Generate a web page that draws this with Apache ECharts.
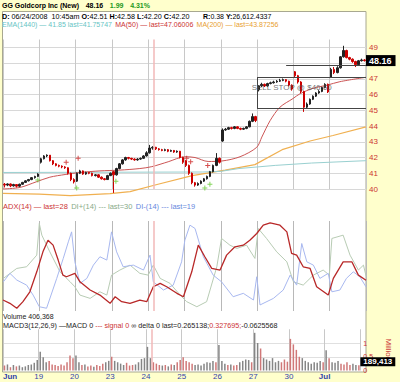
<!DOCTYPE html>
<html><head><meta charset="utf-8">
<script src="https://cdn.jsdelivr.net/npm/echarts@6/dist/echarts.min.js"></script>
<style>html,body{margin:0;padding:0;background:#ffffcc}#c{width:400px;height:382px}</style>
</head><body><div id="c"></div>
<script>
// ---------- data ----------
const dayLabels = ['Jun','19','20','23','24','25','26','27','30','Jul'];
const barsPerDay = 12;
// [open, close, low, high]
const priceBars = [
 [40.30,40.25,40.10,40.38],[40.25,40.32,40.18,40.36],[40.32,40.20,40.12,40.35],[40.20,40.28,40.15,40.33],
 [40.28,40.18,40.10,40.30],[40.18,40.30,40.14,40.34],[40.30,40.42,40.26,40.45],[40.42,40.52,40.38,40.56],
 [40.52,40.60,40.48,40.64],[40.60,40.72,40.56,40.76],[40.72,40.80,40.66,40.84],[40.80,40.95,40.76,41.00],
 [41.70,41.92,41.62,41.98],[41.92,42.10,41.88,42.15],[42.10,42.15,42.02,42.20],[42.15,41.80,41.75,42.16],
 [41.80,41.60,41.52,41.84],[41.60,41.50,41.44,41.64],[41.50,41.45,41.38,41.55],[41.45,41.40,41.32,41.50],
 [41.40,41.35,41.28,41.45],[41.35,41.00,40.92,41.38],[41.00,40.60,40.50,41.04],[40.60,40.45,40.35,40.68],
 [40.50,41.00,40.45,41.05],[41.00,41.15,40.95,41.22],[41.15,40.95,40.90,41.18],[40.95,41.05,40.90,41.10],
 [41.05,41.00,40.94,41.08],[41.00,40.85,40.80,41.04],[40.85,40.90,40.80,40.95],[40.90,40.75,40.70,40.94],
 [40.75,40.65,40.60,40.80],[40.65,40.60,40.55,40.70],[40.60,40.85,40.58,40.90],[40.85,41.00,40.82,41.05],
 [41.10,40.90,39.75,41.15],[40.90,41.30,40.85,41.35],[41.30,41.60,41.25,41.65],[41.60,41.85,41.55,41.90],
 [41.85,42.00,41.80,42.05],[42.00,41.95,41.88,42.04],[41.95,41.90,41.84,41.98],[41.90,41.85,41.80,41.95],
 [41.85,41.90,41.80,41.96],[41.90,41.95,41.85,42.00],[41.95,42.10,41.92,42.15],[42.10,42.30,42.06,42.40],
 [42.30,42.60,42.25,42.80],[42.60,42.65,42.50,42.72],[42.65,42.55,42.48,42.68],[42.55,42.50,42.44,42.60],
 [42.50,42.45,42.40,42.55],[42.45,42.50,42.40,42.56],[42.50,42.40,42.34,42.54],[42.40,42.45,42.36,42.50],
 [42.45,42.35,42.30,42.48],[42.35,42.40,42.30,42.45],[42.40,42.00,41.95,42.42],[42.00,41.70,41.60,42.05],
 [41.80,41.50,41.40,41.85],[41.50,41.00,40.90,41.55],[41.00,40.40,40.30,41.05],[40.40,40.25,40.15,40.45],
 [40.25,40.35,40.20,40.42],[40.35,40.50,40.30,40.55],[40.50,40.65,40.45,40.70],[40.65,40.80,40.60,40.85],
 [40.80,41.10,40.75,41.15],[41.10,41.50,41.05,41.55],[41.50,41.95,41.45,42.28],[41.95,41.70,41.62,42.00],
 [43.05,43.75,43.00,43.85],[43.75,43.80,43.70,43.88],[43.80,43.90,43.75,43.95],[43.90,43.85,43.78,43.95],
 [43.85,43.95,43.80,44.00],[43.95,43.85,43.80,43.98],[43.85,43.80,43.74,43.90],[43.80,43.85,43.76,43.90],
 [43.85,43.95,43.80,44.00],[43.95,44.30,43.92,44.35],[44.30,44.60,44.25,44.80],[44.60,44.35,44.25,44.65],
 [46.30,46.55,46.20,46.60],[46.55,46.65,46.48,46.75],[46.65,46.55,46.48,46.70],[46.55,46.70,46.50,46.75],
 [46.70,46.75,46.65,46.82],[46.75,46.80,46.70,46.88],[46.80,46.85,46.75,46.92],[46.85,46.90,46.80,47.00],
 [46.90,46.95,46.85,47.02],[46.95,46.85,46.78,46.98],[46.85,46.60,46.52,46.88],[46.60,46.35,46.25,46.65],
 [47.45,47.20,47.10,47.50],[47.20,46.80,46.70,47.25],[46.80,46.20,46.10,46.85],[46.20,45.20,44.90,46.25],
 [45.20,45.40,45.10,45.50],[45.40,45.70,45.35,45.75],[45.70,45.90,45.65,45.95],[45.90,46.10,45.85,46.15],
 [46.10,46.20,46.05,46.28],[46.20,46.45,46.15,46.50],[46.45,46.65,46.40,46.72],[46.65,46.17,46.10,46.70],
 [47.10,47.60,47.05,47.70],[47.60,47.40,47.30,47.75],[47.40,47.70,47.35,47.80],[47.70,48.40,47.65,48.45],
 [48.40,48.80,48.35,49.10],[48.80,48.35,48.30,48.85],[48.35,48.25,48.18,48.40],[48.25,48.10,48.02,48.30],
 [48.10,47.90,47.75,48.15],[47.90,48.15,47.85,48.20],[48.15,48.20,48.10,48.28],[48.20,48.16,48.10,48.25]
];
// volume, millions
const volumes = [
 0.18,0.22,0.12,0.20,0.15,0.18,0.12,0.15,0.20,0.22,0.28,0.38,
 0.68,0.48,0.30,0.35,0.22,0.20,0.16,0.22,0.18,0.30,0.55,0.45,
 0.55,0.30,0.20,0.22,0.15,0.18,0.14,0.20,0.16,0.25,0.30,0.35,
 0.50,0.35,0.30,0.25,0.20,0.28,0.18,0.20,0.22,0.30,0.42,0.45,
 0.86,0.45,0.30,0.25,0.20,0.18,0.20,0.15,0.22,0.20,0.30,0.38,
 0.48,0.35,0.30,0.25,0.20,0.22,0.18,0.25,0.30,0.28,0.35,0.30,
 0.93,0.35,0.25,0.20,0.22,0.18,0.20,0.30,0.35,0.40,0.38,0.30,
 1.37,1.00,0.80,0.45,0.40,0.35,0.45,0.30,0.35,0.30,0.40,0.32,
 1.15,0.95,0.75,0.50,0.45,0.35,0.30,0.25,0.30,0.28,0.35,0.30,
 0.74,0.45,0.30,0.28,0.35,0.25,0.22,0.30,0.20,0.25,0.20,0.19
];
// [day position, value]
const ma50 = [[0,40.0],[0.47,40.1],[0.91,40.45],[1.29,40.75],[1.71,40.92],[2.12,41.05],[2.67,41.15],[3.22,41.2],
 [3.77,41.3],[4.10,41.42],[4.55,41.73],[5.01,42.05],[5.29,42.0],[5.65,41.75],[6.03,41.78],[6.53,42.05],[6.99,42.65],
 [7.13,43.3],[7.36,44.35],[7.63,45.2],[7.99,45.75],[8.18,46.05],[8.54,46.4],[8.93,46.6],[9.28,46.82],[10,47.1]];
const ma200 = [[0,39.72],[1.0,39.68],[1.85,39.58],[2.95,39.7],[3.5,39.83],[4.27,40.3],[5.21,40.85],[6.12,41.2],
 [6.94,41.55],[7.69,42.5],[8.46,43.05],[9.09,43.4],[10,43.95]];
const ema1440 = [[0,41.05],[5.5,41.08],[6.0,41.12],[6.5,41.3],[7.5,41.5],[8.5,41.65],[9.2,41.72],[10,41.8]];
const buySignals = [[0.96,40.57],[2.03,40.06],[3.11,40.5],[5.56,40.06],[5.70,40.3]];
const sellSignals = [[1.74,41.7],[2.07,41.96],[5.06,41.95],[5.17,41.73],[5.64,41.5]];
const stopBox = [[[7.0,47.1],[10,47.1]],[[7.0,45.1],[10,45.1]],[[7.0,45.1],[7.0,47.1]],[[7.8,47.88],[10,47.88]]];
const stopText = {pos:[6.85,46.42], text:'SELL STOP @ $46.60'};
const cursorDay = 4.16;
const lastPrice = 48.16, lastVolume = 0.189413;
const adx = [[0,10],[0.19,7],[0.38,2.5],[0.55,8.5],[0.74,17.5],[0.93,35.7],[1.10,53.9],[1.24,64.5],[1.38,60],
 [1.52,46.4],[1.65,32.7],[1.75,31.2],[1.98,34.3],[2.12,26.6],[2.40,19.1],[2.67,14.5],[2.95,7],[3.09,13],[3.27,8.5],
 [3.50,7],[3.77,10],[3.96,8.5],[4.14,22.1],[4.33,25.2],[4.51,22.1],[4.79,16.1],[4.97,13],[5.20,35.7],[5.38,60],
 [5.56,49.4],[5.75,38.8],[5.98,37.3],[6.16,50.9],[6.39,58.5],[6.62,60],[6.80,64.5],[6.99,70.6],[7.17,78.2],
 [7.36,80.3],[7.63,78.2],[7.82,72.1],[7.95,52.5],[8.09,50.9],[8.27,40.3],[8.46,38.8],[8.64,22.1],[8.96,14.5],
 [9.10,29.7],[9.37,44.8],[9.61,44.8],[9.79,32.7],[10,28]];
const diPlus = [[0.01,29.7],[0.38,38.8],[0.65,40.3],[0.93,50.9],[1.00,79.7],[1.07,69.1],[1.29,53.9],[1.57,35.7],
 [1.85,26.6],[1.98,22.1],[2.12,14.5],[2.40,11.5],[2.67,17.5],[2.86,14.5],[2.99,32.7],[3.22,37.3],[3.50,41.8],
 [3.77,34.3],[4.00,32.7],[4.14,41.8],[4.33,29.7],[4.60,25.2],[4.88,14.5],[5.06,8.5],[5.34,3.9],[5.61,8.5],
 [5.89,40.3],[6.02,66.1],[6.25,60],[6.44,57],[6.71,60],[6.94,47.9],[7.03,75.2],[7.26,66.1],[7.54,53.9],[7.82,44.8],
 [8.00,26.6],[8.27,23.6],[8.55,32.7],[8.82,37.3],[8.99,32.7],[9.06,66.1],[9.37,69.1],[9.56,50.9],[9.79,37.3],
 [9.93,41.8],[10,32]];
const diMinus = [[0.01,26.6],[0.19,34.3],[0.38,28.2],[0.65,23.6],[0.83,14.5],[1.00,3.9],[1.20,2.5],[1.48,29.7],
 [1.66,47.9],[1.80,63],[1.89,72.1],[1.98,44.8],[2.12,25.2],[2.31,29.7],[2.49,41.8],[2.67,49.4],[2.86,46.4],
 [2.99,72.1],[3.13,53.9],[3.31,40.3],[3.59,41.8],[3.87,37.3],[4.05,50.9],[4.14,26.6],[4.42,19.1],[4.69,23.6],
 [4.92,44.8],[5.01,64.5],[5.15,78.2],[5.29,75.2],[5.52,49.4],[5.79,32.7],[6.02,26.6],[6.34,13],[6.62,16.1],
 [6.90,10],[6.99,31.2],[7.08,5.5],[7.45,11.5],[7.72,19.1],[7.91,32.7],[8.09,23.6],[8.23,61.5],[8.37,44.8],
 [8.55,41.8],[8.73,29.7],[8.96,34.3],[9.06,17.5],[9.28,19.1],[9.46,29.7],[9.65,35.7],[9.83,31.2],[10,22]];

// ---------- chart ----------
const F = 'Liberation Sans, Arial, sans-serif';
const barX = i => Math.floor(i / barsPerDay) + ((i % barsPerDay) + 0.5) / barsPerDay;
const candleData = priceBars.map((b, i) => [barX(i), b[0], b[1], b[2], b[3]]);
const volData = volumes.map((v, i) => ({
  value: [barX(i), v],
  itemStyle: { color: priceBars[i][1] >= priceBars[i][0] ? '#858585' : '#d07878' }
}));
const L = 3, R = 34;
const xBase = (gi, showLabels) => ({
  type: 'value', gridIndex: gi, min: 0, max: 10, interval: 1,
  axisLine: { show: false }, axisTick: { show: false },
  splitLine: { show: true, lineStyle: { color: gi === 1 ? '#b8b8b8' : '#c8c8c8', width: 1 } },
  axisLabel: showLabels ? {
    show: true, margin: 2, fontFamily: F, fontSize: 8, color: '#3344aa', alignMinLabel: 'left',
    formatter: v => { const l = dayLabels[v]; if (l === undefined) return ''; return (l === 'Jun' || l === 'Jul') ? '{m|' + l + '}' : '{d|' + l + '}'; },
    rich: { m: { fontWeight: 'bold', fontSize: 8, color: '#3344aa', fontFamily: F }, d: { fontSize: 8, color: '#3344aa', fontFamily: F } }
  } : { show: false }
});
const cursorLine = { symbol: 'none', silent: true, label: { show: false }, lineStyle: { color: '#f2b8b8', width: 1.5, type: 'solid' }, data: [{ xAxis: cursorDay }] };
const plusPath = 'path://M4,0H6V4H10V6H6V10H4V6H0V4H4Z';
const rt = (size, color, bold) => ({ fontSize: size, fontFamily: F, fill: color, fontWeight: bold ? 'bold' : 'normal' });

const option = {
  animation: false,
  backgroundColor: 'transparent',
  grid: [
    { left: L, right: R, top: 39.5, height: 149.5 },
    { left: L, right: R, top: 221, height: 90 },
    { left: L, right: R, top: 329.25, height: 41.25 }
  ],
  xAxis: [xBase(0, false), xBase(1, false), xBase(2, true)],
  yAxis: [
    { type: 'value', gridIndex: 0, position: 'right', min: 40, max: 49.5, interval: 1,
      axisLine: { show: false }, axisTick: { show: false },
      splitLine: { show: true, showMaxLine: false, lineStyle: { color: '#d8d8d8' } },
      axisLabel: { margin: 3, fontFamily: F, fontSize: 8, color: '#cc3333',
        formatter: v => (Number.isInteger(v) && v !== Math.round(lastPrice)) ? String(v) : '' } },
    { type: 'value', gridIndex: 1, position: 'right', min: 0, max: 82, show: false, splitLine: { show: false } },
    { type: 'value', gridIndex: 2, position: 'right', min: 0, max: 1.5, interval: 0.5,
      axisLine: { show: false }, axisTick: { show: false },
      splitLine: { show: true, showMaxLine: false, showMinLine: false, lineStyle: { color: '#e0e0e0' } },
      name: 'Million', nameLocation: 'middle', nameRotate: -90, nameGap: 20,
      nameTextStyle: { color: '#cc3333', fontFamily: F, fontSize: 8 },
      axisLabel: { margin: 3, fontFamily: F, fontSize: 7, color: '#cc3333',
        formatter: v => (v === 0 || v === 0.5 || v === 1) ? String(v) : '' } }
  ],
  series: [
    { name: 'MA200', type: 'line', xAxisIndex: 0, yAxisIndex: 0, data: ma200, showSymbol: false, clip: false,
      lineStyle: { color: '#f0b050', width: 1.2 }, z: 2 },
    { name: 'EMA1440', type: 'line', xAxisIndex: 0, yAxisIndex: 0, data: ema1440, showSymbol: false, clip: false,
      lineStyle: { color: '#99d0d0', width: 1 }, z: 2 },
    { name: 'MA50', type: 'line', xAxisIndex: 0, yAxisIndex: 0, data: ma50, showSymbol: false, clip: false, smooth: 0.3,
      lineStyle: { color: '#cc5555', width: 1 }, z: 2 },
    { name: 'price', type: 'candlestick', xAxisIndex: 0, yAxisIndex: 0, data: candleData, clip: false, barWidth: 2,
      encode: { x: 0, y: [1, 2, 3, 4] },
      itemStyle: { color: '#222222', color0: '#cc0000', borderColor: '#222222', borderColor0: '#cc0000', borderWidth: 1 },
      z: 3,
      markLine: { symbol: 'none', silent: true, label: { show: false }, lineStyle: { color: '#444', width: 1, type: 'solid' },
        data: stopBox.map(s => [{ coord: s[0] }, { coord: s[1] }]).concat([{ xAxis: cursorDay, lineStyle: { color: '#f2b8b8', width: 1.5 } }]) },
      markPoint: { symbol: 'circle', symbolSize: 0, silent: true,
        data: [
          { coord: stopText.pos, label: { show: true, position: 'right', distance: 0, formatter: stopText.text, color: 'rgba(80,80,80,0.8)', fontFamily: F, fontSize: 8 } },
          { coord: [10, lastPrice], label: { show: true, position: 'right', distance: 0, formatter: lastPrice.toFixed(2), color: '#fff', backgroundColor: '#000', fontWeight: 'bold', fontFamily: F, fontSize: 9, padding: [1, 4, 1, 3] } }
        ] } },
    { name: 'buy', type: 'scatter', xAxisIndex: 0, yAxisIndex: 0, data: buySignals, symbol: plusPath, symbolSize: 5, clip: false,
      itemStyle: { color: '#66cc33' }, z: 4 },
    { name: 'sell', type: 'scatter', xAxisIndex: 0, yAxisIndex: 0, data: sellSignals, symbol: plusPath, symbolSize: 5, clip: false,
      itemStyle: { color: '#cc2222' }, z: 4 },
    { name: 'DI+', type: 'line', xAxisIndex: 1, yAxisIndex: 1, data: diPlus, showSymbol: false, clip: false,
      lineStyle: { color: '#b8ccb4', width: 1 }, markLine: cursorLine },
    { name: 'DI-', type: 'line', xAxisIndex: 1, yAxisIndex: 1, data: diMinus, showSymbol: false, clip: false,
      lineStyle: { color: '#a8b8f0', width: 1 } },
    { name: 'ADX', type: 'line', xAxisIndex: 1, yAxisIndex: 1, data: adx, showSymbol: false, clip: false,
      lineStyle: { color: '#b82828', width: 1.3 } },
    { name: 'Volume', type: 'bar', xAxisIndex: 2, yAxisIndex: 2, data: volData, barWidth: 1.5,
      markLine: cursorLine,
      markPoint: { symbol: 'circle', symbolSize: 0, silent: true,
        data: [{ coord: [10, lastVolume], label: { show: true, position: 'right', distance: 0, offset: [0, -3.5], formatter: '189,413', color: '#fff', backgroundColor: '#000', fontWeight: 'bold', fontFamily: F, fontSize: 8, padding: [1, 3, 0, 3] } }] } }
  ],
  graphic: [
    { type: 'rect', z: -10, shape: { x: 2.5, y: 11.5, width: 363.5, height: 360.5 }, style: { fill: '#ffffff', stroke: '#a8a890', lineWidth: 1 } },
    { type: 'text', x: 2, y: 5, style: { text: '{b|GG Goldcorp Inc (New)}  {b|48.16}  {g|1.99}  {g|4.31%}', verticalAlign: 'middle',
        rich: { b: rt(7, '#000', true), g: rt(7, '#229922', true) } } },
    { type: 'text', x: 2, y: 16, style: { text: '{b|D:}{n| 06/24/2008  10:45am }{b|O:}{n|42.51 }{b|H:}{n|42.58 }{b|L:}{n|42.20 }{b|C:}{n|42.20}', verticalAlign: 'middle',
        rich: { b: rt(7.2, '#000', true), n: rt(7.2, '#000', false) } } },
    { type: 'text', x: 203, y: 16, style: { text: '{b|R:}{n|0.38 }{b|Y:}{n|26,612.4337}', verticalAlign: 'middle',
        rich: { b: rt(7, '#000', true), n: rt(7, '#000', false) } } },
    { type: 'text', x: 2, y: 24.5, style: { text: '{c|EMA(1440) — 41.85 last=41.75747} {r|MA(50) — last=47.06006} {o|MA(200) — last=43.87256}', verticalAlign: 'middle',
        rich: { c: rt(7, '#66c4c4', false), r: rt(7, '#cc3333', false), o: rt(7, '#e8a030', false) } } },
    { type: 'text', x: 3, y: 206.5, style: { text: '{r|ADX(14) — last=28} {g|DI+(14) --- last=30} {b|DI-(14) --- last=19}', verticalAlign: 'middle',
        rich: { r: rt(7.5, '#cc3333', false), g: rt(7.5, '#88aa88', false), b: rt(7.5, '#6688dd', false) } } },
    { type: 'text', x: 3, y: 316, style: { text: 'Volume 406,368', verticalAlign: 'middle', font: '7px ' + F, fill: '#222' } },
    { type: 'text', x: 3, y: 325, style: { text: '{k|MACD3(12,26,9) —MACD 0 }{r|--- signal 0}{k| ∞ delta 0 last=0.265138;}{r|0.327695;}{k|-0.0625568}', verticalAlign: 'middle',
        rich: { k: rt(7.2, '#222', false), r: rt(7.2, '#cc3333', false) } } }
  ]
};
const chart = echarts.init(document.getElementById('c'), null, { renderer: 'svg' });
chart.setOption(option);
</script></body></html>
